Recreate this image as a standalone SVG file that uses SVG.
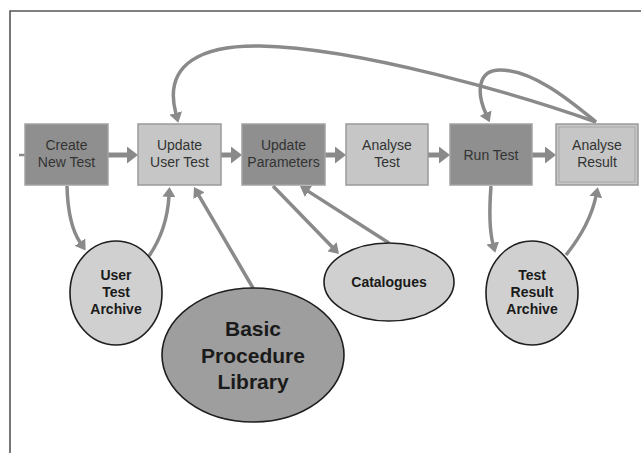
<svg xmlns="http://www.w3.org/2000/svg" width="641" height="453" viewBox="0 0 641 453">
  <style>
    .frame { fill: none; stroke: #555; stroke-width: 1.6; }
    .dark { fill: #8f8f8f; stroke: #a2a2a2; stroke-width: 1.5; }
    .light { fill: #c6c6c6; stroke: #9a9a9a; stroke-width: 1.5; }
    .inner { fill: none; stroke: #a8a8a8; stroke-width: 1; }
    .ell { fill: #d0d0d0; stroke: #1e1e1e; stroke-width: 1.6; }
    .ellDark { fill: #9e9e9e; stroke: #1e1e1e; stroke-width: 1.6; }
    .lbl { font-family: "Liberation Sans", Arial, sans-serif; font-size: 14px; fill: #333; text-anchor: middle; }
    .elbl { font-family: "Liberation Sans", Arial, sans-serif; font-size: 14px; font-weight: bold; fill: #1a1a1a; text-anchor: middle; }
    .big { font-family: "Liberation Sans", Arial, sans-serif; font-size: 21px; font-weight: bold; fill: #1a1a1a; text-anchor: middle; }
    .flow { fill: none; stroke: #8a8a8a; stroke-width: 5; marker-end: url(#headBig); }
    .link { fill: none; stroke: #8a8a8a; stroke-width: 3.5; marker-end: url(#head); }
  </style>
  <defs>
    <marker id="headBig" viewBox="0 0 11 17" refX="1" refY="8.5" markerWidth="11" markerHeight="17" markerUnits="userSpaceOnUse" orient="auto">
      <path d="M0,0 L11,8.5 L0,17 z" fill="#8a8a8a"/>
    </marker>
    <marker id="head" viewBox="0 0 10 13" refX="1" refY="6.5" markerWidth="10" markerHeight="13" markerUnits="userSpaceOnUse" orient="auto">
      <path d="M0,0 L10,6.5 L0,13 z" fill="#8a8a8a"/>
    </marker>
  </defs>
  <rect width="641" height="453" fill="#fff"/>
  <path class="frame" d="M641,11 H10 V453"/>

  <g id="connectors">
    <line x1="19" y1="155" x2="25" y2="155" stroke="#8a8a8a" stroke-width="2.5"/>
    <path class="flow" d="M108,155 H128"/>
    <path class="flow" d="M221,155 H232"/>
    <path class="flow" d="M325,155 H336"/>
    <path class="flow" d="M428,155 H440"/>
    <path class="flow" d="M532,155 H546"/>
    <path class="link" d="M67,186 Q68,225 80.5,243"/>
    <path class="link" d="M149,256 Q167,230 169,196"/>
    <path class="link" d="M253,288 L198.5,194.8"/>
    <path class="link" d="M273,186 L332.7,247.5"/>
    <path class="link" d="M389,243 L307.6,190.9"/>
    <path class="link" d="M491,186 Q488,225 493,244"/>
    <path class="link" d="M566,255 Q590,225 596,196"/>
    <path class="link" d="M596,122 C520,95 360,48 260,46 C205,45 162,62 176,114"/>
    <path class="link" d="M596,122 C575,105 535,70 500,70 C478,70 476,92 486,114"/>
  </g>

  <g id="create-new-test">
    <rect class="dark" x="25" y="124" width="83" height="61"/>
    <text class="lbl" x="66.5" y="150">Create</text>
    <text class="lbl" x="66.5" y="167">New Test</text>
  </g>
  <g id="update-user-test">
    <rect class="light" x="138" y="124" width="83" height="61"/>
    <text class="lbl" x="179.5" y="150">Update</text>
    <text class="lbl" x="179.5" y="167">User Test</text>
  </g>
  <g id="update-parameters">
    <rect class="dark" x="242" y="124" width="83" height="61"/>
    <text class="lbl" x="283.5" y="150">Update</text>
    <text class="lbl" x="283.5" y="167">Parameters</text>
  </g>
  <g id="analyse-test">
    <rect class="light" x="346" y="124" width="82" height="61"/>
    <text class="lbl" x="387" y="150">Analyse</text>
    <text class="lbl" x="387" y="167">Test</text>
  </g>
  <g id="run-test">
    <rect class="dark" x="450" y="124" width="82" height="61"/>
    <text class="lbl" x="491" y="160">Run Test</text>
  </g>
  <g id="analyse-result">
    <rect class="light" x="556" y="124" width="82" height="61"/>
    <rect class="inner" x="559" y="127" width="76" height="55"/>
    <text class="lbl" x="597" y="150">Analyse</text>
    <text class="lbl" x="597" y="167">Result</text>
  </g>

  <g id="user-test-archive">
    <ellipse class="ell" cx="116" cy="293" rx="46" ry="52"/>
    <text class="elbl" x="116" y="280">User</text>
    <text class="elbl" x="116" y="297">Test</text>
    <text class="elbl" x="116" y="314">Archive</text>
  </g>
  <g id="basic-procedure-library">
    <ellipse class="ellDark" cx="253" cy="355" rx="91" ry="67"/>
    <text class="big" x="253" y="336">Basic</text>
    <text class="big" x="253" y="363">Procedure</text>
    <text class="big" x="253" y="389">Library</text>
  </g>
  <g id="catalogues">
    <ellipse class="ell" cx="389" cy="282" rx="65" ry="39"/>
    <text class="elbl" x="389" y="287">Catalogues</text>
  </g>
  <g id="test-result-archive">
    <ellipse class="ell" cx="532" cy="293" rx="46" ry="52"/>
    <text class="elbl" x="532" y="280">Test</text>
    <text class="elbl" x="532" y="297">Result</text>
    <text class="elbl" x="532" y="314">Archive</text>
  </g>
</svg>
